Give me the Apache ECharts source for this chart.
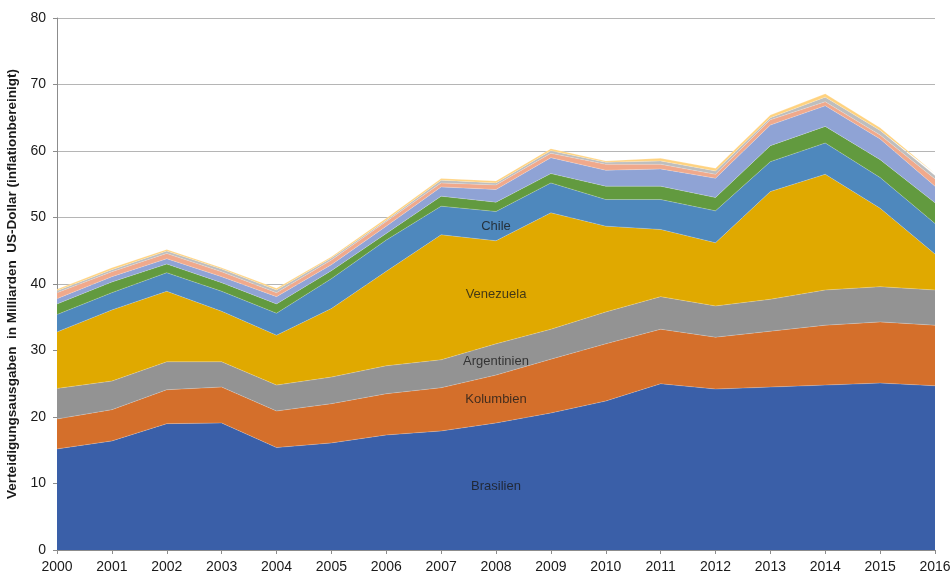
<!DOCTYPE html>
<html><head><meta charset="utf-8">
<script src="https://cdn.jsdelivr.net/npm/echarts@6/dist/echarts.min.js"></script>
<style>html,body{margin:0;padding:0;background:#fff}#c{width:951px;height:574px}</style>
</head><body><div id="c"></div>
<script>
const years = ['2000','2001','2002','2003','2004','2005','2006','2007','2008','2009','2010','2011','2012','2013','2014','2015','2016'];
const brasilien   = [15.2,16.4,19.0,19.1,15.4,16.1,17.3,17.9,19.1,20.6,22.4,25.0,24.2,24.5,24.8,25.1,24.7];
const kolumbien   = [4.5,4.7,5.1,5.4,5.5,5.9,6.2,6.5,7.2,8.1,8.6,8.2,7.8,8.4,9.0,9.2,9.1];
const argentinien = [4.6,4.3,4.2,3.8,3.9,4.0,4.2,4.2,4.7,4.5,4.8,4.9,4.7,4.8,5.3,5.3,5.3];
const venezuela   = [8.5,10.7,10.6,7.6,7.5,10.3,14.2,18.8,15.5,17.5,12.9,10.1,9.5,16.2,17.4,11.8,5.4];
const chile       = [2.6,2.6,2.8,3.0,3.3,4.5,4.7,4.3,4.4,4.5,4.0,4.5,4.8,4.5,4.7,4.6,4.6];
const peru        = [1.6,1.6,1.3,1.3,1.4,1.2,1.0,1.5,1.4,1.4,2.0,2.0,2.0,2.4,2.5,2.7,3.1];
const ecuador     = [0.8,0.8,0.8,0.9,1.1,0.9,1.1,1.4,1.9,2.4,2.4,2.6,2.9,3.1,3.1,3.1,2.5];
const uruguay     = [0.9,0.75,0.8,0.75,0.6,0.7,0.7,0.6,0.7,0.65,0.9,0.7,0.6,0.8,0.6,0.6,1.1];
const bolivien    = [0.3,0.3,0.35,0.4,0.4,0.3,0.2,0.4,0.3,0.4,0.3,0.5,0.5,0.3,0.7,0.7,0.5];
const paraguay    = [0.2,0.3,0.25,0.2,0.25,0.2,0.3,0.25,0.3,0.3,0.2,0.4,0.4,0.4,0.5,0.4,0.3];
const seriesNames = ['Brasilien','Kolumbien','Argentinien','Venezuela','Chile','Peru','Ecuador','Uruguay','Bolivien','Paraguay'];
const seriesData  = [brasilien,kolumbien,argentinien,venezuela,chile,peru,ecuador,uruguay,bolivien,paraguay];
const colors = ['#3A5FA8','#D46F2B','#939393','#E0A900','#4E88BD','#629A3F','#8FA3D5','#F0A98C','#BEBEBE','#FFD27E'];
const labelNames = ['Brasilien','Kolumbien','Argentinien','Venezuela','Chile'];
const labelYear  = ['2008','2008','2008','2008','2008'];
const labelVal   = [9.5,22.6,28.4,38.5,48.6];
const yTicks = [0,10,20,30,40,50,60,70,80];

const FONT = 'Liberation Sans, Arial, sans-serif';
const chart = echarts.init(document.getElementById('c'));
const series = seriesData.map((d,i)=>({
  name: seriesNames[i], type:'line', stack:'total', data:d,
  symbol:'none', smooth:false,
  lineStyle:{width:0.6, color:'rgba(255,255,255,0.35)'},
  areaStyle:{color:colors[i], opacity:1},
  itemStyle:{color:colors[i]}, z:2
}));
series.push({
  type:'scatter', symbolSize:0, z:5,
  data: labelNames.map((n,i)=>({value:[labelYear[i],labelVal[i]], name:n})),
  label:{show:true, position:'inside', formatter:p=>p.name, color:'#1a1a1a',
    fontFamily:FONT, fontSize:13},
  silent:true
});
chart.setOption({
  animation:false,
  color: colors,
  grid:{left:57, right:16, top:18, bottom:24, containLabel:false, outerBoundsMode:'none'},
  xAxis:{type:'category', data:years, boundaryGap:false,
    axisLine:{lineStyle:{color:'#8c8c8c'}},
    axisTick:{show:true, alignWithLabel:true, lineStyle:{color:'#8c8c8c'}, length:4},
    axisLabel:{color:'#1a1a1a', fontFamily:FONT, fontSize:14, margin:10},
    splitLine:{show:false}},
  yAxis:{type:'value', min:0, max:80, interval:10,
    name:'Verteidigungsausgaben  in Milliarden  US-Dollar (inflationbereinigt)',
    nameLocation:'middle', nameGap:32, nameRotate:90,
    nameTextStyle:{color:'#1a1a1a', fontWeight:'bold', fontSize:13.5, fontFamily:FONT},
    axisLine:{show:true, lineStyle:{color:'#8c8c8c'}},
    axisTick:{show:true, lineStyle:{color:'#8c8c8c'}, length:4},
    axisLabel:{color:'#1a1a1a', fontFamily:FONT, fontSize:14, margin:11,
      formatter:v=>yTicks.includes(v)?String(v):''},
    splitLine:{show:true, lineStyle:{color:'#b5b5b5', width:1}}},
  series: series
});
</script></body></html>
